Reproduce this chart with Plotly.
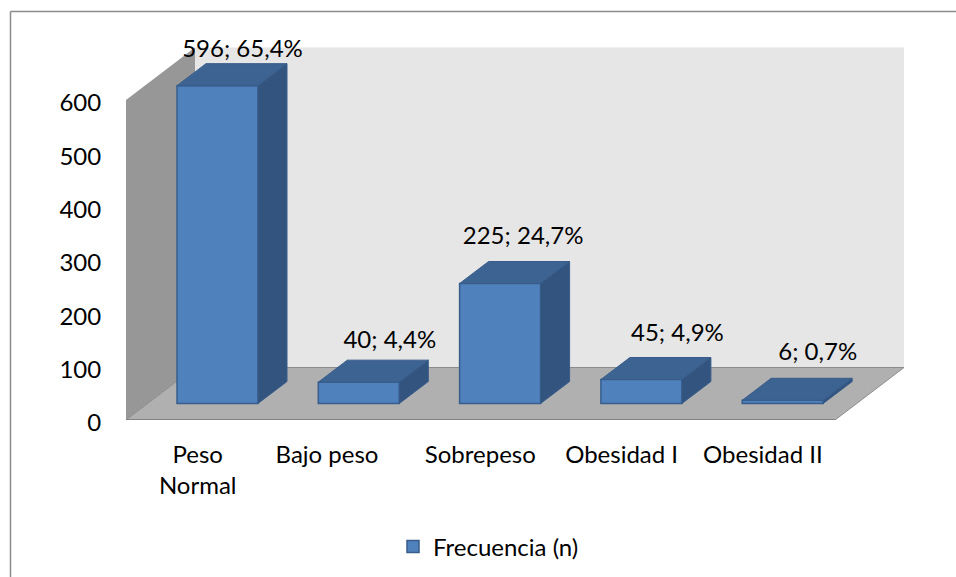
import plotly.graph_objects as go

categories = ["Peso Normal", "Bajo peso", "Sobrepeso", "Obesidad I", "Obesidad II"]
tick_labels = ["Peso<br>Normal", "Bajo peso", "Sobrepeso", "Obesidad I", "Obesidad II"]
frecuencia = [596, 40, 225, 45, 6]
porcentaje = ["65,4%", "4,4%", "24,7%", "4,9%", "0,7%"]
y_ticks = [0, 100, 200, 300, 400, 500, 600]

# geometria del falso 3D, en unidades de los ejes
W, H = 956, 577
PX_X = 141.3     # pixeles por categoria
PX_Y = 0.5333    # pixeles por unidad de frecuencia
X0 = -217.5 / PX_X
BASE = 16.5 / PX_Y          # las barras arrancan sobre el suelo
BAR_W = 81 / PX_X
DX = 29 / PX_X
DY = 22 / PX_Y
WALL_DX = 69 / PX_X
WALL_DY = 52.5 / PX_Y
LEFT = X0 + 126 / PX_X
RIGHT = X0 + 835 / PX_X
TOP_Y = 600

# las etiquetas de datos estan movidas a mano en el original (pixeles)
LABEL_DX = [25, 31, 23, 36, 35]
LABEL_DY = [0, -6, -1, -2, 0]

FRONT = "#4f81bd"
EDGE = "#385d8a"
TOP = "#3c6391"
SIDE = "#32547f"
FONT = "Lato"
FONT_SIZE = 24


def poly(points):
    return "M " + " L ".join(f"{x},{y}" for x, y in points) + " Z"


fig = go.Figure()

fig.add_trace(go.Bar(
    x=list(range(len(categories))),
    y=frecuencia,
    base=BASE,
    width=BAR_W,
    name="Frecuencia (n)",
    marker=dict(color=FRONT, line=dict(color=EDGE, width=1.5)),
    showlegend=True,
))

# caras superior y lateral de cada barra
for i, v in enumerate(frecuencia):
    l, r = i - BAR_W / 2, i + BAR_W / 2
    b, t = BASE, BASE + v
    fig.add_trace(go.Scatter(
        x=[l, r, r + DX, l + DX, l], y=[t, t, t + DY, t + DY, t],
        mode="lines", fill="toself", fillcolor=TOP,
        line=dict(color=EDGE, width=1), showlegend=False, hoverinfo="skip",
    ))
    fig.add_trace(go.Scatter(
        x=[r, r + DX, r + DX, r, r], y=[b, b + DY, t + DY, t, b],
        mode="lines", fill="toself", fillcolor=SIDE,
        line=dict(color=EDGE, width=1), showlegend=False, hoverinfo="skip",
    ))

# etiquetas de datos
fig.add_trace(go.Scatter(
    x=[i + dx / PX_X for i, dx in enumerate(LABEL_DX)],
    y=[min(BASE + v + 87, 692) + dy / PX_Y for v, dy in zip(frecuencia, LABEL_DY)],
    mode="text",
    text=[f"{v}; {p}" for v, p in zip(frecuencia, porcentaje)],
    textposition="middle center",
    textfont=dict(family=FONT, size=FONT_SIZE, color="#000000"),
    showlegend=False, hoverinfo="skip",
))

shapes = [
    # pared del fondo
    dict(type="path", path=poly([(LEFT + WALL_DX, WALL_DY), (RIGHT + WALL_DX, WALL_DY),
                                 (RIGHT + WALL_DX, TOP_Y + WALL_DY), (LEFT + WALL_DX, TOP_Y + WALL_DY)]),
         fillcolor="#e6e6e6", line=dict(width=0), layer="below"),
    # pared izquierda
    dict(type="path", path=poly([(LEFT, 0), (LEFT + WALL_DX, WALL_DY),
                                 (LEFT + WALL_DX, TOP_Y + WALL_DY), (LEFT, TOP_Y)]),
         fillcolor="#979797", line=dict(width=0), layer="below"),
    # suelo
    dict(type="path", path=poly([(LEFT, 0), (RIGHT, 0), (RIGHT + WALL_DX, WALL_DY), (LEFT + WALL_DX, WALL_DY)]),
         fillcolor="#b0b0b0", line=dict(color="#8c8c8c", width=1), layer="below"),
    dict(type="line", x0=LEFT, x1=RIGHT, y0=0, y1=0,
         line=dict(color="#808080", width=2), layer="below"),
    # marco del grafico, abierto por la derecha y por abajo
    dict(type="line", xref="paper", yref="paper", x0=10.5 / W, x1=1, y0=1 - 11.5 / H, y1=1 - 11.5 / H,
         line=dict(color="#8c8c8c", width=1.5)),
    dict(type="line", xref="paper", yref="paper", x0=10.5 / W, x1=10.5 / W, y0=0, y1=1 - 11.5 / H,
         line=dict(color="#8c8c8c", width=1.5)),
]

fig.update_layout(
    width=W, height=H,
    margin=dict(l=0, r=0, t=0, b=0, autoexpand=False),
    paper_bgcolor="white",
    plot_bgcolor="white",
    font=dict(family=FONT, size=FONT_SIZE, color="#000000"),
    shapes=shapes,
    showlegend=True,
    legend=dict(x=393 / W, y=1 - 547 / H, xanchor="left", yanchor="middle",
                bgcolor="rgba(0,0,0,0)", font=dict(family=FONT, size=FONT_SIZE)),
    xaxis=dict(
        domain=[0, 1],
        range=[X0, X0 + W / PX_X],
        tickmode="array",
        tickvals=[i - 0.14 - (0.085 if c == "Bajo peso" else 0) for i, c in enumerate(categories)],
        ticktext=tick_labels,
        ticks="outside", ticklen=13, tickcolor="rgba(0,0,0,0)",
        showgrid=False, zeroline=False, showline=False,
    ),
    yaxis=dict(
        domain=[1 - 420 / H, 1 - 20 / H],
        range=[0, 400 / PX_Y],
        anchor="free",
        position=126 / W,
        tickmode="array",
        tickvals=y_ticks,
        ticks="outside", ticklen=20, tickcolor="rgba(0,0,0,0)",
        ticklabelshift=3,
        showgrid=False, zeroline=False, showline=False,
    ),
)

# sin el margen por defecto del body, para que la figura llene la ventana
fig.write_html("out.html", config=dict(displayModeBar=False),
               post_script="document.body.style.margin='0';")
